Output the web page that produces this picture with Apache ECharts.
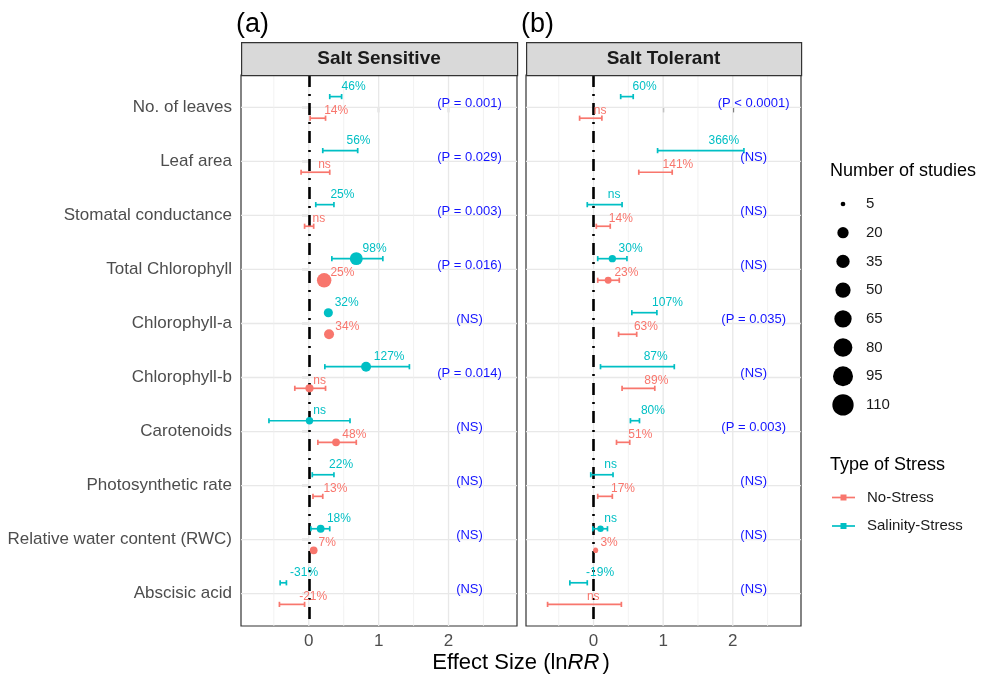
<!DOCTYPE html>
<html><head><meta charset="utf-8">
<script src="https://cdn.jsdelivr.net/npm/echarts@6/dist/echarts.min.js"></script>
<style>html,body{margin:0;padding:0;background:#fff}#c{width:981px;height:679px}</style>
</head><body><div id="c"></div>
<script>
// ---------------- DATA ----------------
const categories = ['No. of leaves','Leaf area','Stomatal conductance','Total Chlorophyll','Chlorophyll-a',
  'Chlorophyll-b','Carotenoids','Photosynthetic rate','Relative water content (RWC)','Abscisic acid'];
const panelTitles = ['Salt Sensitive','Salt Tolerant'];
const panelTags = ['(a)','(b)'];
const stressTypes = ['No-Stress','Salinity-Stress'];
const xTicks = [0, 1, 2];
const xMinorTicks = [-0.5, 0.5, 1.5, 2.5];
const sizeBreaks = [5, 20, 35, 50, 65, 80, 95, 110];

// Salt Sensitive - Salinity-Stress
const sensSalMean = [0.38, 0.45, 0.22, 0.68, 0.28, 0.82, 0.01, 0.20, 0.17, -0.37];
const sensSalLo   = [0.30, 0.20, 0.10, 0.33, 0.27, 0.23, -0.57, 0.05, 0.03, -0.41];
const sensSalHi   = [0.47, 0.70, 0.36, 1.06, 0.29, 1.44, 0.59, 0.36, 0.30, -0.32];
const sensSalN    = [null, null, null, 32, 15, 17, 11, null, 12, null];
const sensSalLab  = ['46%','56%','25%','98%','32%','127%','ns','22%','18%','-31%'];
// Salt Sensitive - No-Stress
const sensNoMean = [0.13, 0.08, 0.00, 0.22, 0.29, 0.01, 0.39, 0.12, 0.07, -0.24];
const sensNoLo   = [0.02, -0.11, -0.06, 0.20, 0.25, -0.20, 0.13, 0.06, 0.05, -0.42];
const sensNoHi   = [0.24, 0.30, 0.07, 0.24, 0.33, 0.24, 0.68, 0.20, 0.09, -0.06];
const sensNoN    = [null, null, null, 44, 17, 13, 12, null, 12, null];
const sensNoLab  = ['14%','ns','ns','25%','34%','ns','48%','13%','7%','-21%'];
// Salt Tolerant - Salinity-Stress
const tolSalMean = [0.47, 1.54, 0.15, 0.27, 0.73, 0.63, 0.59, 0.10, 0.10, -0.21];
const tolSalLo   = [0.39, 0.92, -0.09, 0.06, 0.55, 0.10, 0.53, -0.04, -0.01, -0.34];
const tolSalHi   = [0.57, 2.16, 0.41, 0.48, 0.91, 1.16, 0.66, 0.28, 0.20, -0.09];
const tolSalN    = [null, null, null, 11, null, null, null, null, 9, null];
const tolSalLab  = ['60%','366%','ns','30%','107%','87%','80%','ns','ns','-19%'];
// Salt Tolerant - No-Stress
const tolNoMean = [-0.05, 0.88, 0.13, 0.21, 0.49, 0.64, 0.41, 0.16, 0.03, -0.15];
const tolNoLo   = [-0.20, 0.65, 0.04, 0.06, 0.36, 0.41, 0.33, 0.06, 0.02, -0.66];
const tolNoHi   = [0.12, 1.13, 0.24, 0.37, 0.62, 0.88, 0.52, 0.27, 0.04, 0.40];
const tolNoN    = [null, null, null, 10, null, null, null, null, 6, null];
const tolNoLab  = ['ns','141%','14%','23%','63%','89%','51%','17%','3%','ns'];
// P-values per panel
const sensP = ['(P = 0.001)','(P = 0.029)','(P = 0.003)','(P = 0.016)','(NS)','(P = 0.014)','(NS)','(NS)','(NS)','(NS)'];
const tolP  = ['(P < 0.0001)','(NS)','(NS)','(NS)','(P = 0.035)','(NS)','(P = 0.003)','(NS)','(NS)','(NS)'];
const pLabelX = 2.3;

// ---------------- STYLE / BUILD ----------------
const FONT = '"Liberation Sans", Arial, sans-serif';
const TEAL = '#00BFC4', CORAL = '#F8766D';
const legendDiam = [4.7, 11.3, 13.3, 15.3, 17.3, 18.7, 20, 21.3];
function diam(n) {
  if (n <= sizeBreaks[0]) return legendDiam[0];
  for (let k = 1; k < sizeBreaks.length; k++) {
    if (n <= sizeBreaks[k]) {
      const t = (n - sizeBreaks[k-1]) / (sizeBreaks[k] - sizeBreaks[k-1]);
      return legendDiam[k-1] + t * (legendDiam[k] - legendDiam[k-1]);
    }
  }
  return legendDiam[legendDiam.length - 1];
}
const mctx = document.createElement('canvas').getContext('2d');
function tw(s, size) { mctx.font = size + 'px ' + FONT; return mctx.measureText(s).width; }

const panels = [
  { no: {mean: sensNoMean, lo: sensNoLo, hi: sensNoHi, n: sensNoN, lab: sensNoLab},
    sal: {mean: sensSalMean, lo: sensSalLo, hi: sensSalHi, n: sensSalN, lab: sensSalLab}, p: sensP },
  { no: {mean: tolNoMean, lo: tolNoLo, hi: tolNoHi, n: tolNoN, lab: tolNoLab},
    sal: {mean: tolSalMean, lo: tolSalLo, hi: tolSalHi, n: tolSalN, lab: tolSalLab}, p: tolP }
];
const stressDefs = [
  {key: 'no', name: stressTypes[0], color: CORAL, dy: 0.2, ly: 0.06},
  {key: 'sal', name: stressTypes[1], color: TEAL, dy: -0.2, ly: -0.38}
];
const GRIDS = [{left: 241, top: 75, width: 276, height: 551}, {left: 526, top: 75, width: 275, height: 551}];
const yRows = categories.map((c, i) => i);

const grid = GRIDS.map(g => ({...g, show: true, borderColor: '#333333', borderWidth: 1.2, backgroundColor: '#ffffff', containLabel: false}));
const xAxis = GRIDS.map((g, p) => ({
  type: 'value', gridIndex: p, min: -0.97, max: 2.98,
  axisLine: {show: false}, splitLine: {show: false},
  axisTick: {show: true, customValues: xTicks, length: 5, lineStyle: {color: '#333333', width: 1.2}},
  axisLabel: {customValues: xTicks, color: '#4D4D4D', fontSize: 17, margin: 7, fontFamily: FONT}
}));
const yAxis = GRIDS.map((g, p) => ({
  type: 'value', gridIndex: p, min: -0.6, max: 9.6, inverse: true,
  axisLine: {show: false}, splitLine: {show: false},
  axisTick: {show: p === 0, customValues: yRows, length: 7, lineStyle: {color: '#333333', width: 1.2}},
  axisLabel: {show: p === 0, customValues: yRows, formatter: v => categories[Math.round(v)] || '',
    color: '#4D4D4D', fontSize: 17, margin: 9, fontFamily: FONT}
}));

const series = [];
panels.forEach((pd, p) => {
  // horizontal gridlines at category rows
  series.push({
    type: 'custom', xAxisIndex: p, yAxisIndex: p, z: 1, silent: true,
    data: yRows.map(v => [0, v]),
    renderItem: (params, api) => {
      const cs = params.coordSys;
      const y = api.coord([0, api.value(1)])[1];
      return {type: 'line', shape: {x1: cs.x, y1: y, x2: cs.x + cs.width, y2: y},
        style: {stroke: '#E8E8E8', lineWidth: 1.3}};
    }
  });
  // vertical gridlines (major + minor)
  series.push({
    type: 'custom', xAxisIndex: p, yAxisIndex: p, z: 1, silent: true,
    data: xTicks.map(v => [v, 0, 1]).concat(xMinorTicks.map(v => [v, 0, 0])),
    renderItem: (params, api) => {
      const cs = params.coordSys;
      const x = api.coord([api.value(0), 0])[0];
      const major = api.value(2) === 1;
      return {type: 'line', shape: {x1: x, y1: cs.y, x2: x, y2: cs.y + cs.height},
        style: {stroke: major ? '#E8E8E8' : '#EFEFEF', lineWidth: major ? 1.3 : 0.8}};
    }
  });
  // p labels
  series.push({
    type: 'scatter', xAxisIndex: p, yAxisIndex: p, symbolSize: 0, silent: true, z: 5,
    itemStyle: {opacity: 1},
    data: pd.p.map((t, i) => ({name: t, value: [pLabelX, i - 0.07]})),
    label: {show: true, position: 'inside', formatter: q => q.name, color: '#1414ff', fontSize: 13,
      fontFamily: FONT, textBorderWidth: 0}
  });
  stressDefs.forEach((s, si) => {
    const d = pd[s.key];
    const eb = {
      type: 'custom', name: s.name, xAxisIndex: p, yAxisIndex: p, z: 3, silent: true,
      data: d.lo.map((lo, i) => [lo, d.hi[i], i + s.dy]),
      encode: {x: [0, 1], y: 2},
      renderItem: (params, api) => {
        const a = api.coord([api.value(0), api.value(2)]);
        const b = api.coord([api.value(1), api.value(2)]);
        const h = 2.6, st = {stroke: s.color, lineWidth: 1.7};
        return {type: 'group', children: [
          {type: 'line', shape: {x1: a[0], y1: a[1], x2: b[0], y2: b[1]}, style: st},
          {type: 'line', shape: {x1: a[0], y1: a[1] - h, x2: a[0], y2: a[1] + h}, style: st},
          {type: 'line', shape: {x1: b[0], y1: b[1] - h, x2: b[0], y2: b[1] + h}, style: st}
        ]};
      }
    };
    if (si === 0) {
      eb.markLine = {
        silent: true, symbol: 'none', z: 2, animation: false, label: {show: false},
        emphasis: {disabled: true},
        lineStyle: {color: '#000000', width: 2.6, type: [12, 7, 2, 7]},
        data: [{xAxis: 0}]
      };
    }
    series.push(eb);
    series.push({
      type: 'scatter', name: s.name, xAxisIndex: p, yAxisIndex: p, z: 4, silent: true,
      data: d.mean.map((m, i) => d.n[i] == null ? null : [m, i + s.dy, d.n[i]]).filter(Boolean),
      symbolSize: v => diam(v[2]),
      itemStyle: {color: s.color, opacity: 1}
    });
    series.push({
      type: 'scatter', xAxisIndex: p, yAxisIndex: p, z: 5, silent: true, symbolSize: 0,
      itemStyle: {opacity: 1},
      data: d.lab.map((t, i) => ({name: t, value: [d.mean[i], i + s.ly],
        label: {offset: [tw(t, 12) * 0.22 + 1, 0]}})),
      label: {show: true, position: 'inside', align: 'left', formatter: q => q.name,
        color: s.color, fontSize: 12, fontFamily: FONT, textBorderWidth: 0}
    });
  });
});

// graphics: strips, tags, axis title, legends
const graphic = [];
GRIDS.forEach((g, p) => {
  graphic.push({type: 'rect', left: g.left, top: 42, shape: {x: 0, y: 0, width: g.width, height: 33},
    style: {fill: '#D9D9D9', stroke: '#333333', lineWidth: 1.2}, z: 10});
  graphic.push({type: 'text', x: g.left + g.width / 2, y: 58.5, z: 11,
    style: {text: panelTitles[p], font: 'bold 19px ' + FONT, fill: '#1A1A1A', textAlign: 'center', textVerticalAlign: 'middle'}});
  graphic.push({type: 'text', x: g.left - 5, y: 25, z: 11,
    style: {text: panelTags[p], font: '27px ' + FONT, fill: '#000', textAlign: 'left', textVerticalAlign: 'middle'}});
});
graphic.push({type: 'text', x: 521, y: 663, z: 11,
  style: {text: '{n|Effect Size (ln}{i|RR}{n|)}', textAlign: 'center', textVerticalAlign: 'middle',
    rich: {n: {font: '22px ' + FONT, fill: '#000'}, i: {font: 'italic 22px ' + FONT, fill: '#000', padding: [0, 3, 0, 0]}}}});
graphic.push({type: 'text', x: 830, y: 171, z: 11,
  style: {text: 'Number of studies', font: '18px ' + FONT, fill: '#000', textAlign: 'left', textVerticalAlign: 'middle'}});
sizeBreaks.forEach((n, k) => {
  const y = 204 + k * 28.7;
  graphic.push({type: 'circle', shape: {cx: 843, cy: y, r: diam(n) / 2}, style: {fill: '#000'}, z: 11});
  graphic.push({type: 'text', x: 866, y: y, z: 11,
    style: {text: String(n), font: '15px ' + FONT, fill: '#1A1A1A', textAlign: 'left', textVerticalAlign: 'middle'}});
});
graphic.push({type: 'text', x: 830, y: 465, z: 11,
  style: {text: 'Type of Stress', font: '18px ' + FONT, fill: '#000', textAlign: 'left', textVerticalAlign: 'middle'}});
stressTypes.forEach((name, k) => {
  const y = 497.5 + k * 28.5;
  const col = stressDefs[k].color;
  graphic.push({type: 'line', shape: {x1: 832, y1: y, x2: 855, y2: y}, style: {stroke: col, lineWidth: 1.7}, z: 11});
  graphic.push({type: 'rect', shape: {x: 840.5, y: y - 3, width: 6, height: 6}, style: {fill: col}, z: 11});
  graphic.push({type: 'text', x: 867, y: y, z: 11,
    style: {text: name, font: '15px ' + FONT, fill: '#1A1A1A', textAlign: 'left', textVerticalAlign: 'middle'}});
});

const chart = echarts.init(document.getElementById('c'), null, {renderer: 'canvas'});
chart.setOption({
  animation: false,
  backgroundColor: '#ffffff',
  textStyle: {fontFamily: FONT},
  grid, xAxis, yAxis, series, graphic
});
</script>
</body></html>
